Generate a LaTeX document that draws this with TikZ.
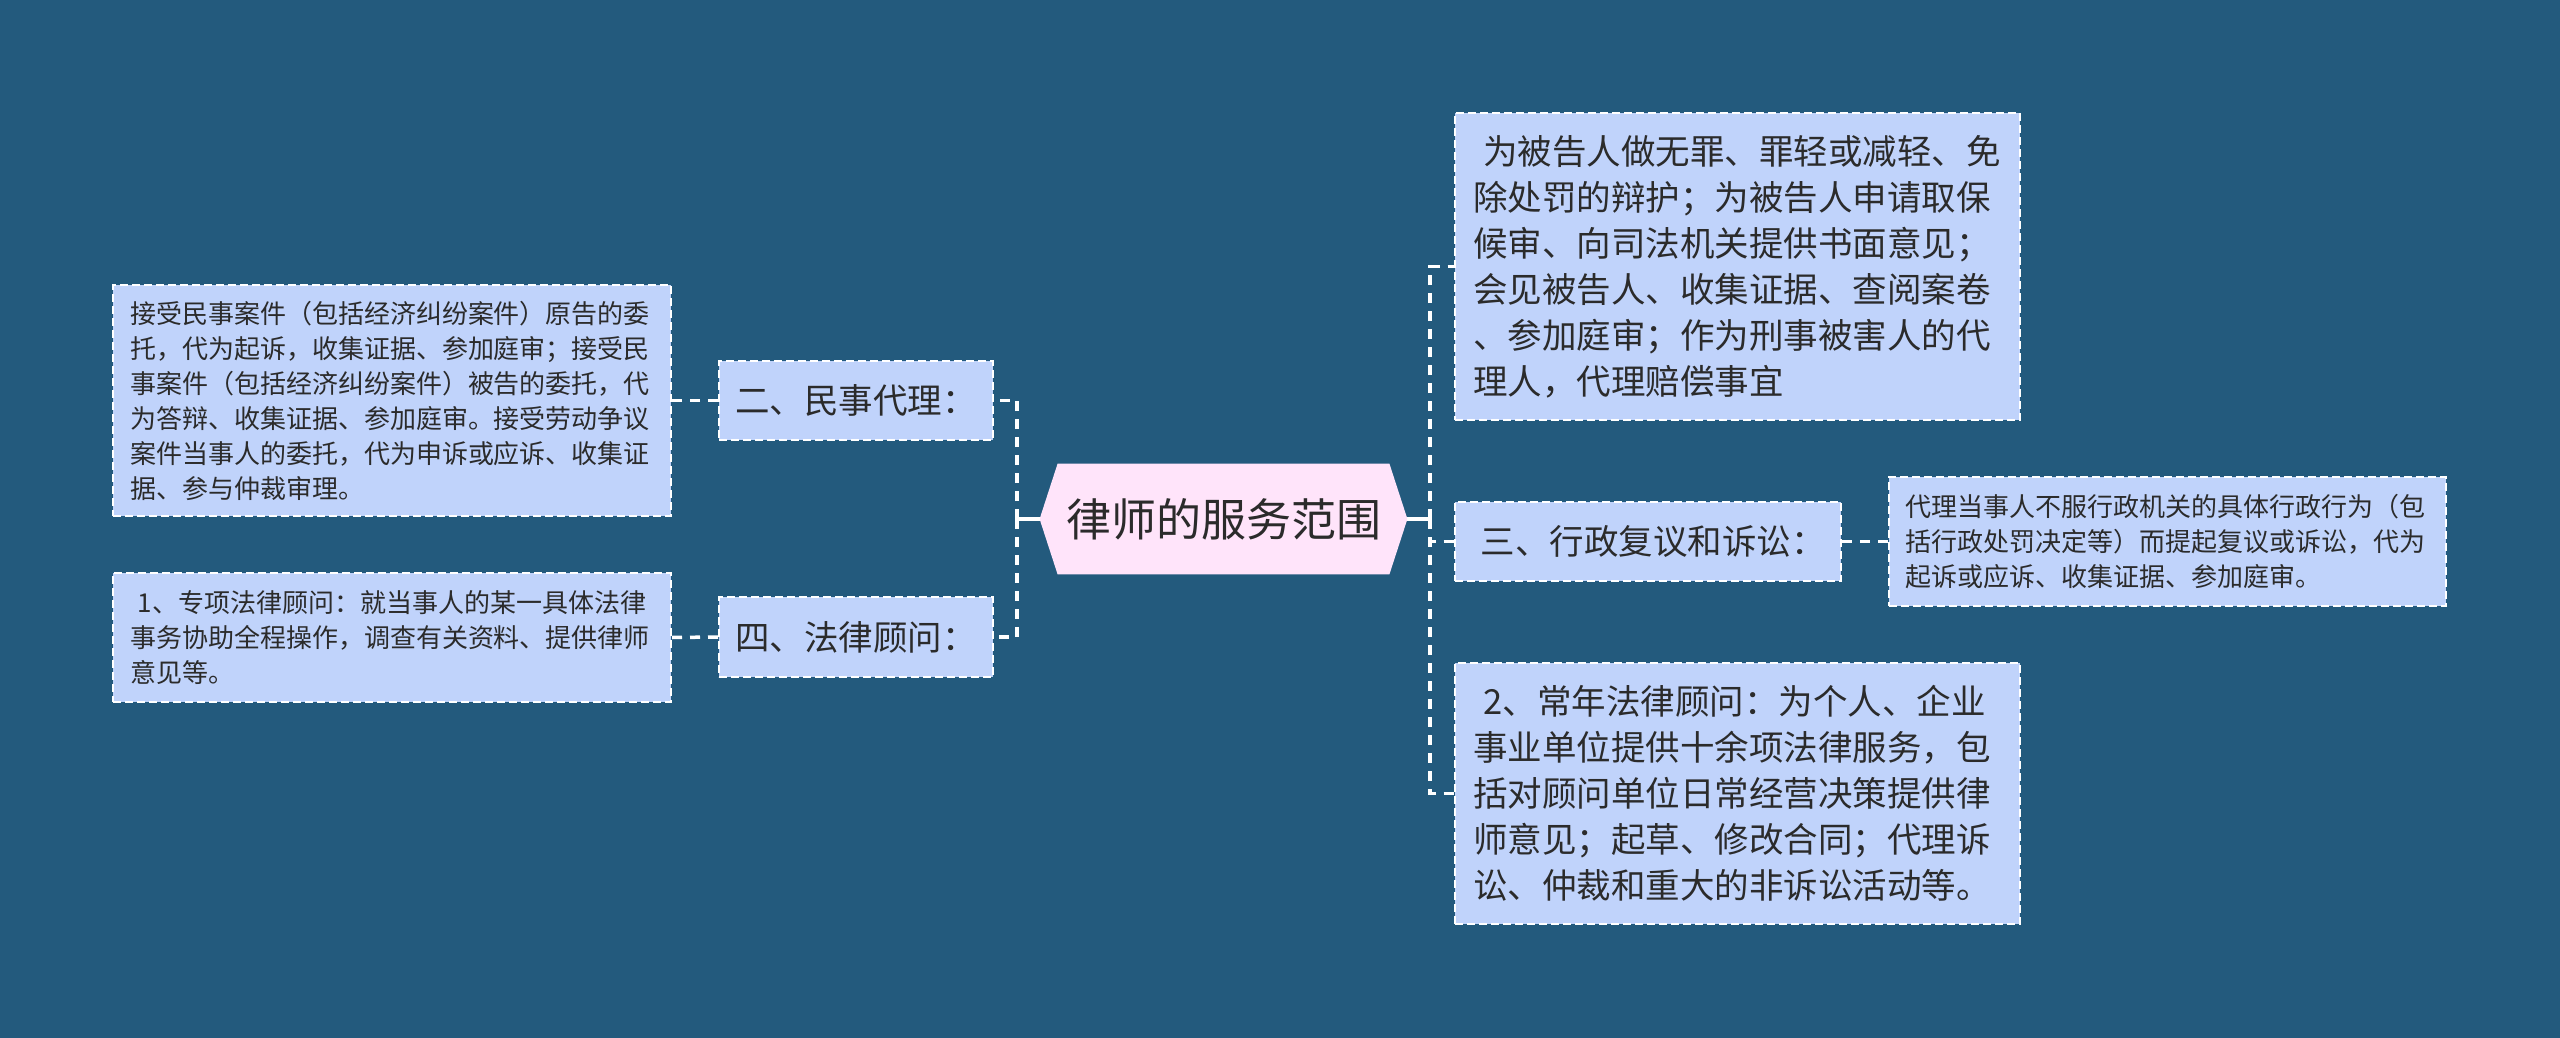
\documentclass[tikz,border=0pt]{standalone}
\usepackage{fontspec}
\setmainfont{Noto Sans CJK SC}
\usetikzlibrary{calc}
\pgfdeclarelayer{bglayer}
\pgfdeclarelayer{hexlayer}
\pgfsetlayers{bglayer,hexlayer,main}
\definecolor{bgblue}{HTML}{235A7D}
\definecolor{boxfill}{HTML}{C0D3FB}
\definecolor{rootfill}{HTML}{FFE4FA}
\definecolor{txt}{HTML}{2B2B2B}
\begin{document}
\begin{tikzpicture}[x=0.5pt,y=-0.5pt,
  box/.style={draw=white, line width=1pt, dash pattern=on 4pt off 2pt, fill=boxfill, text=txt, inner sep=0pt, align=left},
  smalltext/.style={font=\fontsize{13pt}{17.5pt}\selectfont},
  medtext/.style={font=\fontsize{17.25pt}{23pt}\selectfont},
  conn/.style={draw=white, line width=1.75pt, dash pattern=on 5pt off 4pt},
  stub/.style={draw=white, line width=1.75pt}]

\begin{pgfonlayer}{bglayer}
\fill[bgblue] (0,0) rectangle (2560,1038);
\end{pgfonlayer}
\useasboundingbox (0,0) rectangle (2560,1038);

% root
\node[text=txt, font=\fontsize{22.5pt}{27pt}\selectfont, minimum width=183.5pt, minimum height=55pt, inner sep=0pt] (root) at (1223.5,519) {律师的服务范围};
\begin{pgfonlayer}{hexlayer}
\fill[rootfill] (root.west) -- ($(root.north west)+(18,0)$) -- ($(root.north east)+(-18,0)$) -- (root.east) -- ($(root.south east)+(-18,0)$) -- ($(root.south west)+(18,0)$) -- cycle;
\end{pgfonlayer}

% left branches
\node[box, medtext, minimum width=137pt, minimum height=39.5pt] (b2) at (856,400.5) {二、民事代理：};
\node[box, medtext, minimum width=137pt, minimum height=40pt] (b4) at (856,637) {四、法律顾问：};

\node[box, smalltext, minimum width=279pt, minimum height=115.5pt, text width=262pt] (l1) at (392,400.5) {接受民事案件（包括经济纠纷案件）原告的委\\托，代为起诉，收集证据、参加庭审；接受民\\事案件（包括经济纠纷案件）被告的委托，代\\为答辩、收集证据、参加庭审。接受劳动争议\\案件当事人的委托，代为申诉或应诉、收集证\\据、参与仲裁审理。};
\node[box, smalltext, minimum width=279pt, minimum height=64.5pt, text width=262pt] (l2) at (392,637.5) {\hspace{0.3em}1、专项法律顾问：就当事人的某一具体法律\\事务协助全程操作，调查有关资料、提供律师\\意见等。};

% right branches
\node[box, medtext, minimum width=282.5pt, minimum height=153.5pt, text width=264.5pt] (r1) at (1737.5,266.5) {\hspace{0.3em}为被告人做无罪、罪轻或减轻、免\\除处罚的辩护；为被告人申请取保\\候审、向司法机关提供书面意见；\\会见被告人、收集证据、查阅案卷\\、参加庭审；作为刑事被害人的代\\理人，代理赔偿事宜};
\node[box, medtext, minimum width=193pt, minimum height=39.5pt] (b3) at (1648,541.5) {\hspace{0.3em}三、行政复议和诉讼：};
\node[box, smalltext, minimum width=278.5pt, minimum height=64.5pt, text width=262pt] (r3) at (2167.5,541.5) {代理当事人不服行政机关的具体行政行为（包\\括行政处罚决定等）而提起复议或诉讼，代为\\起诉或应诉、收集证据、参加庭审。};
\node[box, medtext, minimum width=282.5pt, minimum height=130.5pt, text width=264.5pt] (r2) at (1737.5,793.5) {\hspace{0.3em}2、常年法律顾问：为个人、企业\\事业单位提供十余项法律服务，包\\括对顾问单位日常经营决策提供律\\师意见；起草、修改合同；代理诉\\讼、仲裁和重大的非诉讼活动等。};

% connectors
\coordinate (lj) at (1017,519);
\coordinate (rj) at (1430,519);
\draw[stub] (root.west) -- (lj);
\draw[stub] (root.east) -- (rj);
\draw[conn] (lj) |- (b2.east);
\draw[conn] (lj) |- (b4.east);
\draw[conn] (rj) |- (r1.west);
\draw[conn] (rj) |- (b3.west);
\draw[conn] (rj) |- (r2.west);
\draw[conn] (b2.west) -- (l1.east);
\draw[conn] (b4.west) -- (l2.east);
\draw[conn] (b3.east) -- (r3.west);
\end{tikzpicture}
\end{document}
